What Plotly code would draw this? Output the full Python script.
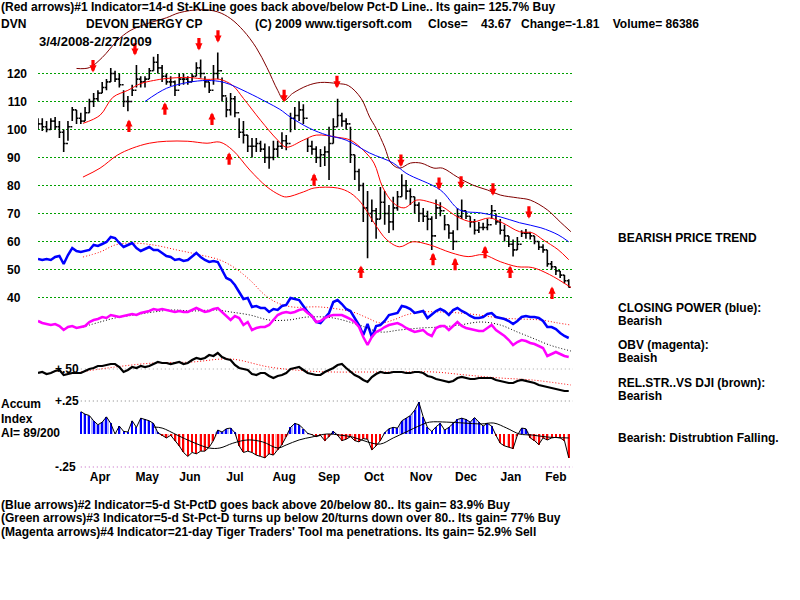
import plotly.graph_objects as go

# ---------------- data ----------------
bar_days = list(range(0, 250, 2))
high = [104, 104, 103, 104, 104.5, 103, 100, 103, 108, 107,
        106, 108, 111, 113, 114, 117, 118, 122, 121, 120,
        114, 112, 116, 123, 119, 119, 122, 126, 127, 123,
        120, 119, 117.5, 120, 120, 119, 120, 124, 125, 119,
        117, 123, 127.5, 118.6, 111.5, 113, 112, 104, 103, 98,
        97, 97, 96, 95, 94, 96, 96, 99, 98, 106,
        108, 110, 109, 97, 96, 94, 93, 94, 101, 104,
        111, 106, 104, 101, 91, 86, 81, 78, 75, 72,
        79.5, 78, 73, 76, 78, 84, 82, 79, 76, 74,
        72, 71, 69, 75, 74, 69.5, 66, 64, 72, 75,
        71, 69, 68, 67, 66.7, 68, 73, 70, 68, 66,
        62, 60.7, 61.6, 64, 64.5, 63.5, 62, 60, 59, 57,
        53, 51, 49.5, 48, 46.5]
low = [100, 99.5, 99, 100, 100, 97, 92, 96, 103, 102,
       102, 103, 106, 108, 110, 113, 114, 117, 117, 115,
       108, 106.5, 112, 115, 115, 115, 118, 121, 120, 117,
       116, 115.5, 112, 115.5, 116, 116, 117, 119, 118.5, 115,
       113, 116, 118, 110, 104.4, 105, 104.4, 97, 95, 92,
       90, 92, 92, 88, 86, 89, 90, 93, 92.6, 99,
       100, 103, 102, 92, 91, 88, 86.6, 87, 82, 95,
       101, 101, 100, 88, 82, 78, 67, 54, 67, 61,
       68, 66, 63, 64, 71, 76, 75, 73, 70, 67,
       67, 64, 57, 68, 69, 64, 61, 57, 64, 68,
       68, 65, 62.5, 63, 64, 64, 68, 66, 62.5, 60,
       58, 54.6, 57, 61.6, 61, 60.7, 59, 57, 56, 51,
       50, 48, 47, 45, 43.6]
close = [102, 101, 100, 103, 101, 99, 95, 101, 107, 104,
         103, 106, 110, 111, 113, 115, 117, 120, 118, 116,
         110, 110, 114, 118, 117, 118, 121, 124, 122, 119,
         117, 117, 114, 118, 118, 117, 119, 122, 120, 117,
         114, 120, 121, 112, 107, 111, 106, 99, 98, 94,
         94, 95, 93, 90, 90, 93, 94, 96, 95, 104,
         105, 107, 104, 94, 93, 90, 91, 92, 95, 101,
         105, 103, 102, 91, 85, 80, 72, 70, 71, 68,
         74, 70, 67, 72, 76, 80, 78, 76, 73, 70,
         69, 68, 62, 72, 71, 66, 63, 60, 69, 71,
         69, 67, 64, 65, 65, 66, 71, 67, 64, 62,
         59, 57, 59, 63, 63, 62, 60, 58, 57, 52,
         51, 49.5, 48, 46, 43.67]

upper_days = [18, 24, 30, 37, 43, 51, 60, 66, 76, 84, 90, 96, 102, 107, 112, 115, 119, 126, 132, 140,
              145, 151, 155, 158, 162, 165, 169, 174, 179, 185, 189, 196, 203, 210, 216, 224, 230, 238, 244, 249]
upper_band = [121.8, 122.1, 125.7, 131.7, 135.3, 137.8, 139.9, 141.7, 142.8, 142.0, 139.6, 135.3, 129.2, 122.1,
              114.0, 110.4, 112.9, 115.7, 116.8, 116.4, 115.7, 111.1, 104.4, 100.4, 93.7, 88.0, 86.2, 88.0,
              88.0, 86.2, 86.2, 83.0, 80.2, 78.4, 76.6, 75.6, 74.8, 71.3, 67.0, 63.5]
mid_days = [21, 29, 35, 42, 48, 54, 60, 70, 79, 85, 91, 96, 104, 112, 116, 124, 130, 140, 146, 152, 157, 161,
            166, 171, 177, 183, 189, 196, 203, 211, 217, 225, 231, 236, 243, 248]
mid_band = [102.2, 105.1, 111.5, 114.0, 116.4, 117.5, 118.2, 118.6, 117.9, 117.9, 115.7, 111.1, 103.3, 96.2,
            93.7, 96.2, 98.0, 97.2, 96.2, 92.6, 88.0, 79.5, 73.8, 72.0, 74.8, 74.1, 72.4, 68.8, 67.0, 68.4,
            66.7, 63.5, 63.1, 60.6, 57.1, 53.5]
lower_days = [21, 29, 37, 44, 52, 60, 70, 79, 85, 91, 99, 107, 113, 116, 124, 129, 140, 146, 151, 157, 163,
              169, 175, 183, 193, 201, 208, 216, 224, 231, 239, 249]
lower_band = [83.0, 86.2, 90.8, 93.3, 95.1, 95.8, 95.8, 95.1, 95.5, 92.6, 85.5, 79.5, 76.6, 75.9, 77.7, 79.1,
              79.1, 77.3, 73.8, 66.7, 60.6, 58.1, 59.9, 58.8, 56.0, 54.6, 55.3, 52.8, 51.0, 50.7, 48.2, 43.6]
ma_days = [50, 60, 70, 79, 87, 98, 107, 113, 118, 127, 135, 144, 155, 166, 172, 188, 197, 207, 216, 225, 235,
           243, 248]
price_ma = [110.0, 114.7, 116.8, 117.5, 116.8, 113.2, 109.7, 107.2, 104.4, 100.4, 98.0, 96.2, 91.6, 88.0,
            84.4, 78.4, 71.3, 70.2, 68.8, 66.7, 64.9, 62.4, 59.9]

down_arrow_days = [25.7, 45.3, 75.2, 84.1, 115, 139.7, 169.6, 187.4, 197.7, 212.6, 229.4]
down_arrow_price = [120.4, 126.4, 128.2, 131.0, 109.7, 114.7, 86.6, 78.4, 78.8, 76.3, 68.1]
up_arrow_days = [42.5, 59.3, 81.3, 89.3, 129, 150.9, 184.6, 194.9, 208.9, 220.6, 240.2]
up_arrow_price = [103.6, 109.7, 106.1, 91.9, 84.4, 51.4, 56.0, 54.2, 58.5, 51.4, 43.9]

closing_power = [86, 85, 86, 85, 88, 89, 81, 90, 97, 94, 93, 94, 95, 100, 99, 101, 103, 108, 107, 102,
                 98, 100, 102, 97, 94, 96, 98, 95, 95, 92, 89, 88, 85, 86, 84, 85, 89, 92, 88, 85,
                 83, 84, 83, 75, 67, 65, 60, 53, 46, 47, 38, 39, 37, 37, 33, 36, 35, 39, 40, 47,
                 46, 45, 39, 33, 29, 23, 22, 27, 32, 43, 45, 41, 36, 34, 27, 20, 10, 21, 8, 19,
                 20, 24, 30, 31, 32, 39, 38, 36, 32, 33, 34, 27, 31, 34, 36, 34, 30, 35, 37, 34,
                 32, 29, 27, 27, 28, 31, 32, 28, 27, 26, 24, 21, 24, 28, 29, 28, 28, 27, 24, 18,
                 18, 16, 12, 9, 7]
cp_ma_days = [21, 29, 36, 43, 54, 65, 76, 85, 92, 99, 106, 112, 119, 132, 147, 154, 160, 166, 172, 179,
              188, 197, 206, 216, 225, 235, 243, 249]
cp_ma = [88, 93, 100, 102, 100, 95, 90, 85, 77, 65, 50, 42, 38, 38, 33, 27, 22, 25, 30, 33,
         33, 32, 30, 27, 26, 25, 22, 20]

obv = [49, 47, 46, 45, 46, 44, 40, 43, 44, 42, 43, 44, 48, 50, 51, 53, 52, 55, 54, 53,
       54, 55, 56, 55, 57, 58, 59, 61, 60, 61, 60, 59, 58, 59, 58, 58, 60, 62, 60, 58,
       59, 61, 62, 58, 55, 50, 54, 52, 45, 48, 40, 42, 43, 43, 45, 50, 55, 57, 58, 57,
       58, 60, 61, 57, 54, 48, 49, 52, 54, 55, 55, 55, 53, 51, 48, 43, 33, 25, 33, 38,
       40, 43, 45, 46, 47, 45, 42, 40, 38, 39, 40, 36, 34, 42, 44, 44, 40, 44, 48, 44,
       42, 41, 40, 39, 39, 42, 45, 40, 37, 34, 30, 25, 28, 30, 29, 27, 26, 24, 22, 14,
       16, 18, 16, 14, 13]
obv_ma_days = [21, 29, 36, 45, 54, 63, 72, 83, 90, 99, 108, 117, 126, 138, 150, 160, 169, 179, 188, 197,
               207, 216, 224, 231, 239, 249]
obv_ma = [43, 48, 52, 55, 58, 60, 59, 60, 58, 55, 50, 50, 53, 52, 45, 38, 40, 42, 43, 45,
          48, 45, 38, 32, 25, 19]

rel_str = [0.48, 0.485, 0.475, 0.48, 0.49, 0.495, 0.47, 0.475, 0.48, 0.48,
           0.48, 0.49, 0.5, 0.505, 0.515, 0.515, 0.52, 0.525, 0.525, 0.51,
           0.485, 0.495, 0.51, 0.505, 0.515, 0.51, 0.515, 0.525, 0.535, 0.53,
           0.53, 0.525, 0.53, 0.535, 0.525, 0.53, 0.545, 0.555, 0.55, 0.555,
           0.57, 0.565, 0.58, 0.56, 0.55, 0.545, 0.52, 0.505, 0.5, 0.495,
           0.475, 0.47, 0.48, 0.48, 0.465, 0.455, 0.465, 0.47, 0.48, 0.5,
           0.505, 0.51, 0.495, 0.48, 0.475, 0.47, 0.47, 0.485, 0.495, 0.505,
           0.52, 0.525, 0.505, 0.485, 0.47, 0.46, 0.445, 0.435, 0.46, 0.475,
           0.485, 0.48, 0.48, 0.485, 0.485, 0.485, 0.48, 0.48, 0.485, 0.485,
           0.48, 0.465, 0.46, 0.45, 0.445, 0.44, 0.435, 0.44, 0.455, 0.46,
           0.455, 0.45, 0.45, 0.455, 0.455, 0.455, 0.455, 0.445, 0.44, 0.435,
           0.43, 0.43, 0.44, 0.445, 0.44, 0.435, 0.43, 0.42, 0.415, 0.41,
           0.405, 0.40, 0.395, 0.39, 0.39]
rs_ma_days = [20, 36, 54, 72, 90, 108, 126, 138, 154, 169, 185, 200, 216, 231, 249]
rs_ma = [0.485, 0.51, 0.53, 0.535, 0.55, 0.51, 0.49, 0.485, 0.485, 0.485, 0.485, 0.47, 0.455, 0.445, 0.42]
rs_level = 0.50

accum_days = bar_days[10:]
accum = [0.17, 0.15, 0.14, 0.10, 0.07, 0.09, 0.13, 0.08, 0.0, 0.06,
         0.02, 0.015, 0.10, 0.05, 0.12, 0.11, 0.10, 0.08, 0.01, -0.01,
         -0.03, -0.01, -0.05, -0.09, -0.14, -0.17, -0.14, -0.15, -0.13, -0.13,
         -0.10, -0.05, 0.03, 0.015, 0.04, 0.045, 0.01, -0.09, -0.14, -0.13,
         -0.14, -0.16, -0.17, -0.18, -0.15, -0.16, -0.12, -0.08, -0.02, 0.05,
         0.08, 0.07, 0.04, 0.005, -0.005, -0.02, -0.01, -0.05, -0.02, 0.02,
         -0.01, -0.05, -0.04, -0.02, -0.05, -0.06, -0.035, -0.04, -0.12, -0.09,
         -0.05, 0.01, 0.04, 0.05, 0.045, 0.10, 0.12, 0.14, 0.18, 0.24,
         0.13, 0.05, 0.02, 0.055, 0.08, 0.03, 0.05, 0.08, 0.11, 0.12,
         0.11, 0.09, 0.125, 0.09, 0.06, 0.08, 0.06, -0.01, -0.07, -0.09,
         -0.10, -0.11, -0.01, 0.045, 0.04, -0.03, -0.05, -0.08, -0.03, -0.045,
         -0.03, -0.025, -0.03, -0.05, -0.18]
ai_ma_days = [54, 58, 65, 72, 80, 85, 91, 98, 105, 112, 116, 122, 128, 135, 141, 147, 154, 160, 166, 172,
              179, 183, 191, 199, 207, 213, 219, 225, 231, 238, 248]
ai_ma = [0.053, 0.045, -0.008, -0.06, -0.106, -0.106, -0.07, -0.045, -0.06, -0.106, -0.083, -0.045, -0.023,
         0.0, -0.008, -0.023, -0.06, -0.076, -0.03, 0.015, 0.068, 0.09, 0.09, 0.083, 0.076, 0.083, 0.045,
         0.0, -0.008, -0.023, -0.03]
ai_levels = [0.25, -0.25]

month_days = [29, 51, 71, 92, 115, 136, 157, 179, 200, 221, 242]
month_labels = ["Apr", "May", "Jun", "Jul", "Aug", "Sep", "Oct", "Nov", "Dec", "Jan", "Feb"]
price_ticks = [40, 50, 60, 70, 80, 90, 100, 110, 120]

# ---------------- figure ----------------
W, H = 800, 600
FONT = "Liberation Sans"
PX_PER_UNIT = 2.8   # price axis scale (pixels per dollar)
Y120 = 73.5         # pixel row of the 120 grid line


def px(x):
    return x / W


def py(y):
    return 1 - y / H


fig = go.Figure()

# price bands
fig.add_trace(go.Scatter(x=upper_days, y=upper_band, mode="lines", line=dict(color="#800000", width=1, shape="spline")))
fig.add_trace(go.Scatter(x=mid_days, y=mid_band, mode="lines", line=dict(color="#ff0000", width=1, shape="spline")))
fig.add_trace(go.Scatter(x=lower_days, y=lower_band, mode="lines", line=dict(color="#ff0000", width=1, shape="spline")))
fig.add_trace(go.Scatter(x=ma_days, y=price_ma, mode="lines", line=dict(color="#0000ff", width=1, shape="spline")))

opens = [close[0]] + close[:-1]
fig.add_trace(go.Ohlc(x=bar_days, open=opens, high=high, low=low, close=close, tickwidth=0.45,
                      increasing=dict(line=dict(color="black", width=1.6)),
                      decreasing=dict(line=dict(color="black", width=1.6))))

# closing power
fig.add_trace(go.Scatter(x=cp_ma_days, y=cp_ma, yaxis="y2", mode="lines",
                         line=dict(color="#ff0000", width=1, dash="1px,2px", shape="spline")))
fig.add_trace(go.Scatter(x=bar_days, y=closing_power, yaxis="y2", mode="lines",
                         line=dict(color="#0000ff", width=2.5)))
# OBV
fig.add_trace(go.Scatter(x=obv_ma_days, y=obv_ma, yaxis="y3", mode="lines",
                         line=dict(color="#000000", width=1, dash="1px,2px", shape="spline")))
fig.add_trace(go.Scatter(x=bar_days, y=obv, yaxis="y3", mode="lines",
                         line=dict(color="#ff00ff", width=2.5)))
# relative strength
fig.add_trace(go.Scatter(x=[bar_days[10], 250], y=[rs_level, rs_level], yaxis="y4", mode="lines",
                         line=dict(color="#a0a0a0", width=1, dash="1px,3px")))
fig.add_trace(go.Scatter(x=rs_ma_days, y=rs_ma, yaxis="y4", mode="lines",
                         line=dict(color="#ff0000", width=1, dash="1px,2px", shape="spline")))
fig.add_trace(go.Scatter(x=bar_days, y=rel_str, yaxis="y4", mode="lines",
                         line=dict(color="#000000", width=2.2)))

# accumulation index
for lvl, col in zip(ai_levels, ["#808080", "#c060c0"]):
    fig.add_trace(go.Scatter(x=[accum_days[0], 250], y=[lvl, lvl], yaxis="y5", mode="lines",
                             line=dict(color=col, width=1, dash="1px,3px")))
pos = [max(v, 0) for v in accum]
neg = [min(v, 0) for v in accum]
fig.add_trace(go.Scatter(x=accum_days, y=pos, yaxis="y5", mode="lines", line=dict(width=0, color="blue"),
                         fill="tozeroy", fillcolor="rgba(0,0,0,0)",
                         fillpattern=dict(shape="|", fgcolor="#0000ff", bgcolor="rgba(0,0,0,0)", size=4, solidity=0.3)))
fig.add_trace(go.Scatter(x=accum_days, y=neg, yaxis="y5", mode="lines", line=dict(width=0, color="red"),
                         fill="tozeroy", fillcolor="rgba(0,0,0,0)",
                         fillpattern=dict(shape="|", fgcolor="#ff0000", bgcolor="rgba(0,0,0,0)", size=4, solidity=0.3)))
fig.add_trace(go.Bar(x=accum_days, y=accum, yaxis="y5", width=0.55,
                     marker=dict(color=["#0000ff" if v >= 0 else "#ff0000" for v in accum], line=dict(width=0))))
fig.add_trace(go.Scatter(x=accum_days, y=accum, yaxis="y5", mode="lines", line=dict(color="black", width=1)))
fig.add_trace(go.Scatter(x=ai_ma_days, y=ai_ma, yaxis="y5", mode="lines",
                         line=dict(color="black", width=1, shape="spline")))

annotations = []
# arrows
for d, p in zip(down_arrow_days, down_arrow_price):
    annotations.append(dict(x=d, y=p, xref="x", yref="y", text="", showarrow=True, ax=0, ay=-14,
                            arrowhead=2, arrowsize=0.45, arrowwidth=3.2, arrowcolor="#ff0000", standoff=0))
for d, p in zip(up_arrow_days, up_arrow_price):
    annotations.append(dict(x=d, y=p, xref="x", yref="y", text="", showarrow=True, ax=0, ay=14,
                            arrowhead=2, arrowsize=0.45, arrowwidth=3.2, arrowcolor="#ff0000", standoff=0))

NB = "\u00a0"
texts = [
    (0, 7, "(Red arrows)#1 Indicator=14-d St-KLine goes back above/below Pct-D Line.. Its gain= 125.7% Buy", 12),
    (0, 24, "DVN", 12),
    (85, 24, "DEVON ENERGY CP", 12),
    (254, 24, "(C) 2009 www.tigersoft.com", 12),
    (427, 24, f"Close={NB}{NB}{NB}{NB}43.67{NB}{NB}{NB}Change=-1.81{NB}{NB}{NB}{NB}Volume={NB}86386", 12),
    (38, 41, "3/4/2008-2/27/2009", 13),
    (617, 238, "BEARISH PRICE TREND", 12),
    (617, 308, "CLOSING POWER (blue):", 12),
    (617, 321, "Bearish", 12),
    (617, 345, "OBV (magenta):", 12),
    (617, 358, "Beaish", 12),
    (617, 383, "REL.STR..VS DJI (brown):", 12),
    (617, 396, "Bearish", 12),
    (617, 438, "Bearish: Distrubtion Falling.", 12),
    (0, 404, "Accum", 12),
    (0, 419, "Index", 12),
    (0, 433, "AI= 89/200", 12),
    (0, 505, "(Blue arrows)#2 Indicator=5-d St-PctD goes back above 20/below 80.. Its gain= 83.9% Buy", 12),
    (0, 518, "(Green arrows)#3 Indicator=5-d St-Pct-D turns up below 20/turns down over 80.. Its gain= 77% Buy", 12),
    (0, 532, "(Magenta arrows)#4 Indicator=21-day Tiger Traders' Tool ma penetrations. Its gain= 52.9% Sell", 12),
]
for x, y, t, s in texts:
    annotations.append(dict(x=px(x), y=py(y), xref="paper", yref="paper", text=t, showarrow=False,
                            xanchor="left", yanchor="middle", borderpad=0,
                            font=dict(family=FONT, size=s, color="black", weight="bold")))
# panel level labels
annotations.append(dict(x=7.5, y=0.25, xref="x", yref="y5", text="+.25", showarrow=False, xanchor="left",
                        yanchor="middle", borderpad=0, font=dict(family=FONT, size=12, color="black", weight="bold")))
annotations.append(dict(x=7.5, y=-0.25, xref="x", yref="y5", text="-.25", showarrow=False, xanchor="left",
                        yanchor="middle", borderpad=0, font=dict(family=FONT, size=12, color="black", weight="bold")))
annotations.append(dict(x=7.5, y=rs_level, xref="x", yref="y4", text="+.50", showarrow=False, xanchor="left",
                        yanchor="middle", borderpad=0, font=dict(family=FONT, size=12, color="black", weight="bold")))


def dom(bottom_px, top_px):
    return [1 - bottom_px / H, 1 - top_px / H]


hidden = dict(visible=False, showgrid=False, zeroline=False, fixedrange=True)

fig.update_layout(
    width=W, height=H, margin=dict(l=0, r=0, t=0, b=0),
    paper_bgcolor="white", plot_bgcolor="rgba(0,0,0,0)", showlegend=False,
    annotations=annotations, bargap=0,
    xaxis=dict(domain=[38 / W, 573 / W], range=[0, 250], anchor="y5", showgrid=False, zeroline=False,
               showline=False, ticks="", tickvals=month_days, ticktext=month_labels, automargin=False,
               tickfont=dict(family=FONT, size=12, color="black", weight="bold"), rangeslider=dict(visible=False)),
    yaxis=dict(domain=dom(305, 0), range=[120 - (305 - Y120) / PX_PER_UNIT, 120 + Y120 / PX_PER_UNIT], anchor="x",
               tickvals=price_ticks,
               ticktext=[(str(v) + NB + NB) if v < 100 else str(v) for v in price_ticks],
               showgrid=True, gridcolor="#00a000", griddash="2px,2px", gridwidth=1, zeroline=False,
               showline=False, ticks="", automargin=False, ticklabelstandoff=10,
               tickfont=dict(family=FONT, size=12, color="black", weight="bold")),
    yaxis2=dict(domain=dom(350, 220), range=[-5, 125], anchor="x", **hidden),
    yaxis3=dict(domain=dom(370, 290), range=[0, 80], anchor="x", **hidden),
    yaxis4=dict(domain=dom(400, 340), range=[0.345, 0.645], anchor="x", **hidden),
    yaxis5=dict(domain=dom(468, 395), range=[(434 - 468) / 132, (434 - 395) / 132], anchor="x", **hidden),
)

fig.write_html("out.html")
